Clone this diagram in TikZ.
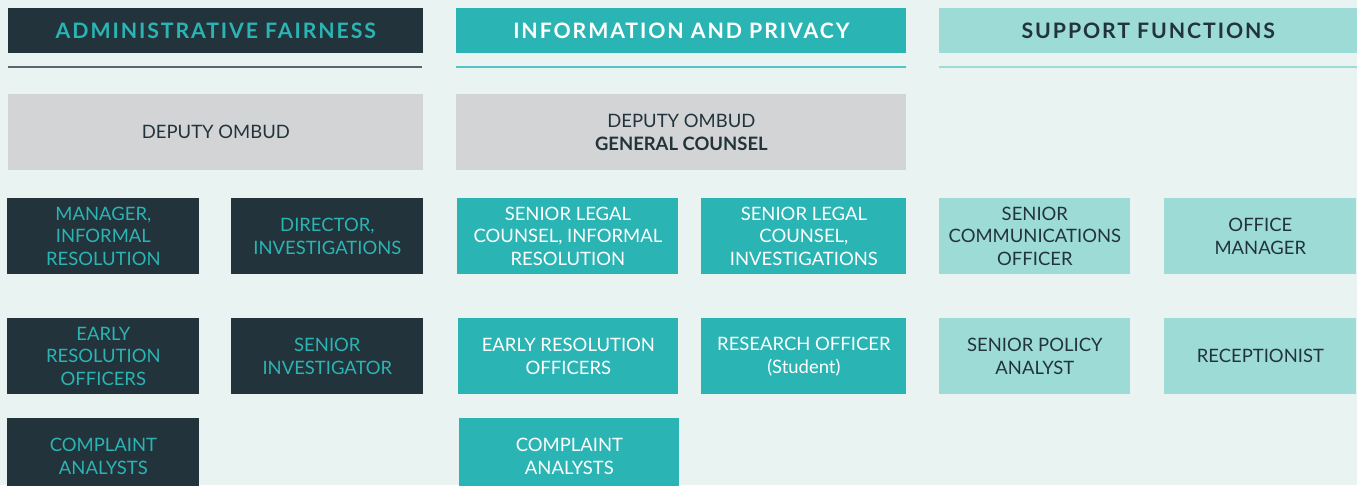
\documentclass[tikz,border=0pt]{standalone}
\usepackage{fontspec}
\setmainfont{Lato}
\newfontfamily\headfont[LetterSpace=9]{Lato}
\usetikzlibrary{positioning}
\definecolor{pagebg}{HTML}{E9F3F2}
\definecolor{navy}{HTML}{22333B}
\definecolor{teal}{HTML}{2AB5B4}
\definecolor{lightteal}{HTML}{9DDBD7}
\definecolor{deputygrey}{HTML}{D3D4D5}

\begin{document}
\begin{tikzpicture}[
  font=\fontsize{10.5}{13}\selectfont,
  box/.style={anchor=north west, inner sep=0pt, minimum height=1.52cm, align=center},
  head/.style={box, minimum height=0.9cm, font=\headfont\bfseries\fontsize{12.1}{14}\selectfont},
  afrole/.style={box, fill=navy, text=teal},
  iprole/.style={box, fill=teal, text=white},
  sfrole/.style={box, fill=lightteal, text=navy},
  deputy/.style={box, fill=deputygrey, text=navy, minimum width=#1},
  rule/.style={line width=0.6pt}]
    \clip (0,0) rectangle (27.14,-9.70);
    \fill[pagebg] (0,0) rectangle (27.14,-9.70);
    %
    % column heads
    \node[head, fill=navy, text=teal, minimum width=8.30cm] (af_head) at (0.16,-0.16) {ADMINISTRATIVE FAIRNESS};
    \node[head, fill=teal, text=white, minimum width=9.00cm] (ip_head) at (9.12,-0.16) {INFORMATION AND PRIVACY};
    \node[head, fill=lightteal, text=navy, minimum width=8.36cm] (sf_head) at (18.78,-0.16) {SUPPORT FUNCTIONS};
    \coordinate (af_rule) at (0.16,-1.34);
    \coordinate (ip_rule) at (9.12,-1.34);
    \coordinate (sf_rule) at (18.78,-1.34);
    \draw[rule, navy!75] (af_rule) -- ++(8.28,0);
    \draw[rule, teal!80] (ip_rule) -- ++(9.00,0);
    \draw[rule, lightteal] (sf_rule) -- ++(8.36,0);
    %
    % deputies
    \node[deputy=8.30cm] (af_dep) at (0.16,-1.88) {DEPUTY OMBUD};
    \node[deputy=9.00cm] (ip_dep) at (9.12,-1.88) {DEPUTY OMBUD\\\textbf{GENERAL COUNSEL}};
    %
    % administrative fairness
    \node[afrole, minimum width=3.84cm] (af_mgr) at (0.14,-3.96) {MANAGER,\\INFORMAL\\RESOLUTION};
    \node[afrole, minimum width=3.84cm] (af_dir) at (4.62,-3.96) {DIRECTOR,\\INVESTIGATIONS};
    \node[afrole, minimum width=3.84cm] (af_ero) at (0.14,-6.36) {EARLY\\RESOLUTION\\OFFICERS};
    \node[afrole, minimum width=3.84cm] (af_inv) at (4.62,-6.36) {SENIOR\\INVESTIGATOR};
    \node[afrole, minimum width=3.84cm] (af_ca) at (0.14,-8.36) {COMPLAINT\\ANALYSTS};
    %
    % information and privacy
    \node[iprole, minimum width=4.42cm] (ip_slir) at (9.14,-3.96) {SENIOR LEGAL\\COUNSEL, INFORMAL\\RESOLUTION};
    \node[iprole, minimum width=4.10cm] (ip_slinv) at (14.02,-3.96) {SENIOR LEGAL\\COUNSEL,\\INVESTIGATIONS};
    \node[iprole, minimum width=4.40cm] (ip_ero) at (9.16,-6.36) {EARLY RESOLUTION\\OFFICERS};
    \node[iprole, minimum width=4.10cm] (ip_res) at (14.02,-6.36) {RESEARCH OFFICER\\(Student)};
    \node[iprole, minimum width=4.40cm] (ip_ca) at (9.18,-8.36) {COMPLAINT\\ANALYSTS};
    %
    % support functions
    \node[sfrole, minimum width=3.82cm] (sf_comm) at (18.78,-3.96) {SENIOR\\COMMUNICATIONS\\OFFICER};
    \node[sfrole, minimum width=3.84cm] (sf_mgr) at (23.28,-3.96) {OFFICE\\MANAGER};
    \node[sfrole, minimum width=3.82cm] (sf_pol) at (18.78,-6.36) {SENIOR POLICY\\ANALYST};
    \node[sfrole, minimum width=3.84cm] (sf_rec) at (23.28,-6.36) {RECEPTIONIST};
\end{tikzpicture}
\end{document}
